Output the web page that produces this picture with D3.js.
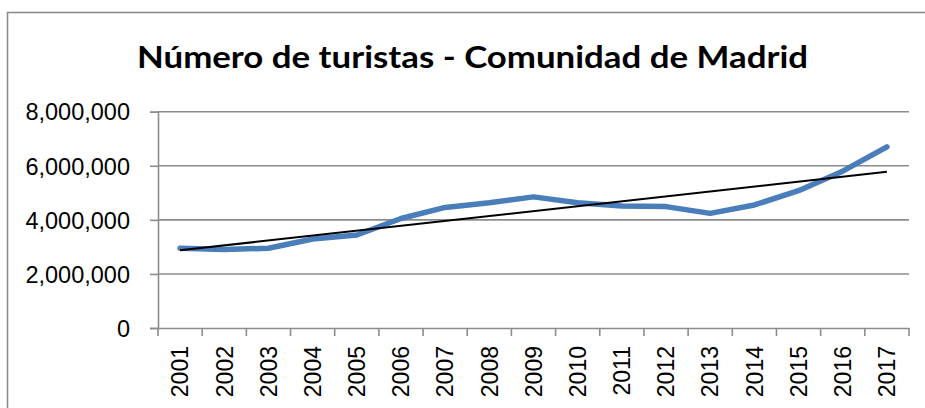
<!DOCTYPE html>
<html>
<head>
<meta charset="utf-8">
<script src="https://cdn.jsdelivr.net/npm/d3@7/dist/d3.min.js"></script>
<style>
  html, body { margin: 0; padding: 0; background: #fff; }
  svg { display: block; }
</style>
</head>
<body>
<svg id="chart" width="925" height="408"></svg>
<script>
const title = "Número de turistas - Comunidad de Madrid";
const years = ["2001","2002","2003","2004","2005","2006","2007","2008","2009","2010","2011","2012","2013","2014","2015","2016","2017"];
const tourists = [2950000, 2900000, 2950000, 3290000, 3440000, 4050000, 4460000, 4630000, 4850000, 4630000, 4510000, 4490000, 4240000, 4550000, 5080000, 5800000, 6700000];
const yTicks = [0, 2000000, 4000000, 6000000, 8000000];

const svg = d3.select("#chart");
const m = { left: 158, right: 909, top: 111.7, bottom: 328 };

// outer chart border (extends past the right and bottom edges)
svg.append("rect")
  .attr("x", 7.5).attr("y", 12.5)
  .attr("width", 940).attr("height", 420)
  .attr("fill", "none").attr("stroke", "#8c8c8c").attr("stroke-width", 1.6);

// title
svg.append("text")
  .attr("x", 472.5).attr("y", 67.5)
  .attr("text-anchor", "middle")
  .attr("font-family", "Lato, 'Open Sans', sans-serif")
  .attr("font-weight", "bold")
  .attr("font-size", 31)
  .attr("textLength", 671).attr("lengthAdjust", "spacingAndGlyphs")
  .attr("fill", "#000")
  .text(title);

const x = d3.scaleBand().domain(years).range([m.left, m.right]).paddingInner(0).paddingOuter(0);
const y = d3.scaleLinear().domain([0, 8000000]).range([m.bottom, m.top]);

// gridlines
svg.append("g").selectAll("line").data(yTicks.filter(d => d > 0)).join("line")
  .attr("x1", m.left).attr("x2", m.right)
  .attr("y1", d => y(d)).attr("y2", d => y(d))
  .attr("stroke", "#8c8c8c").attr("stroke-width", 1.6);

// y axis
const yAxis = d3.axisLeft(y).tickValues(yTicks).tickSize(8).tickPadding(20)
  .tickFormat(d3.format(","));
const gy = svg.append("g").attr("transform", `translate(${m.left},0)`).call(yAxis);
gy.select(".domain").attr("stroke", "#8c8c8c").attr("stroke-width", 1.6);
gy.selectAll(".tick line").attr("stroke", "#8c8c8c").attr("stroke-width", 1.6);
gy.selectAll(".tick text")
  .attr("font-family", "'Liberation Sans', Arial, sans-serif")
  .attr("font-size", 23.5).attr("fill", "#000")
  .attr("dy", "0.35em");

// x axis
const xAxis = d3.axisBottom(x).tickSize(0).tickSizeOuter(0);
const gx = svg.append("g").attr("transform", `translate(0,${m.bottom})`).call(xAxis);
gx.select(".domain").attr("stroke", "#8c8c8c").attr("stroke-width", 1.6);
// category boundary tick marks
const bounds = years.map(d => x(d)).concat([x(years[years.length - 1]) + x.bandwidth()]);
gx.append("g").selectAll("line").data(bounds).join("line")
  .attr("x1", d => d).attr("x2", d => d)
  .attr("y1", 0).attr("y2", 8)
  .attr("stroke", "#8c8c8c").attr("stroke-width", 1.6);
gx.selectAll(".tick text")
  .attr("font-family", "'Liberation Sans', Arial, sans-serif")
  .attr("font-size", 23).attr("fill", "#000")
  .attr("text-anchor", "end")
  .attr("transform", "rotate(-90)")
  .attr("x", -18).attr("y", 0).attr("dy", "0.36em");

const cx = d => x(d) + x.bandwidth() / 2;

// data line
const line = d3.line().x((d, i) => cx(years[i])).y(d => y(d));
svg.append("path").datum(tourists)
  .attr("d", line)
  .attr("fill", "none").attr("stroke", "#4a7ebb")
  .attr("stroke-width", 5.5)
  .attr("stroke-linecap", "round").attr("stroke-linejoin", "round");

// linear trend line (least squares over the series)
const n = tourists.length;
const idx = d3.range(n);
const mx = d3.mean(idx), my = d3.mean(tourists);
const slope = d3.sum(idx, i => (i - mx) * (tourists[i] - my)) / d3.sum(idx, i => (i - mx) ** 2);
const icpt = my - slope * mx;
svg.append("line")
  .attr("x1", cx(years[0])).attr("y1", y(icpt))
  .attr("x2", cx(years[n - 1])).attr("y2", y(icpt + slope * (n - 1)))
  .attr("stroke", "#000").attr("stroke-width", 2);
</script>
</body>
</html>
